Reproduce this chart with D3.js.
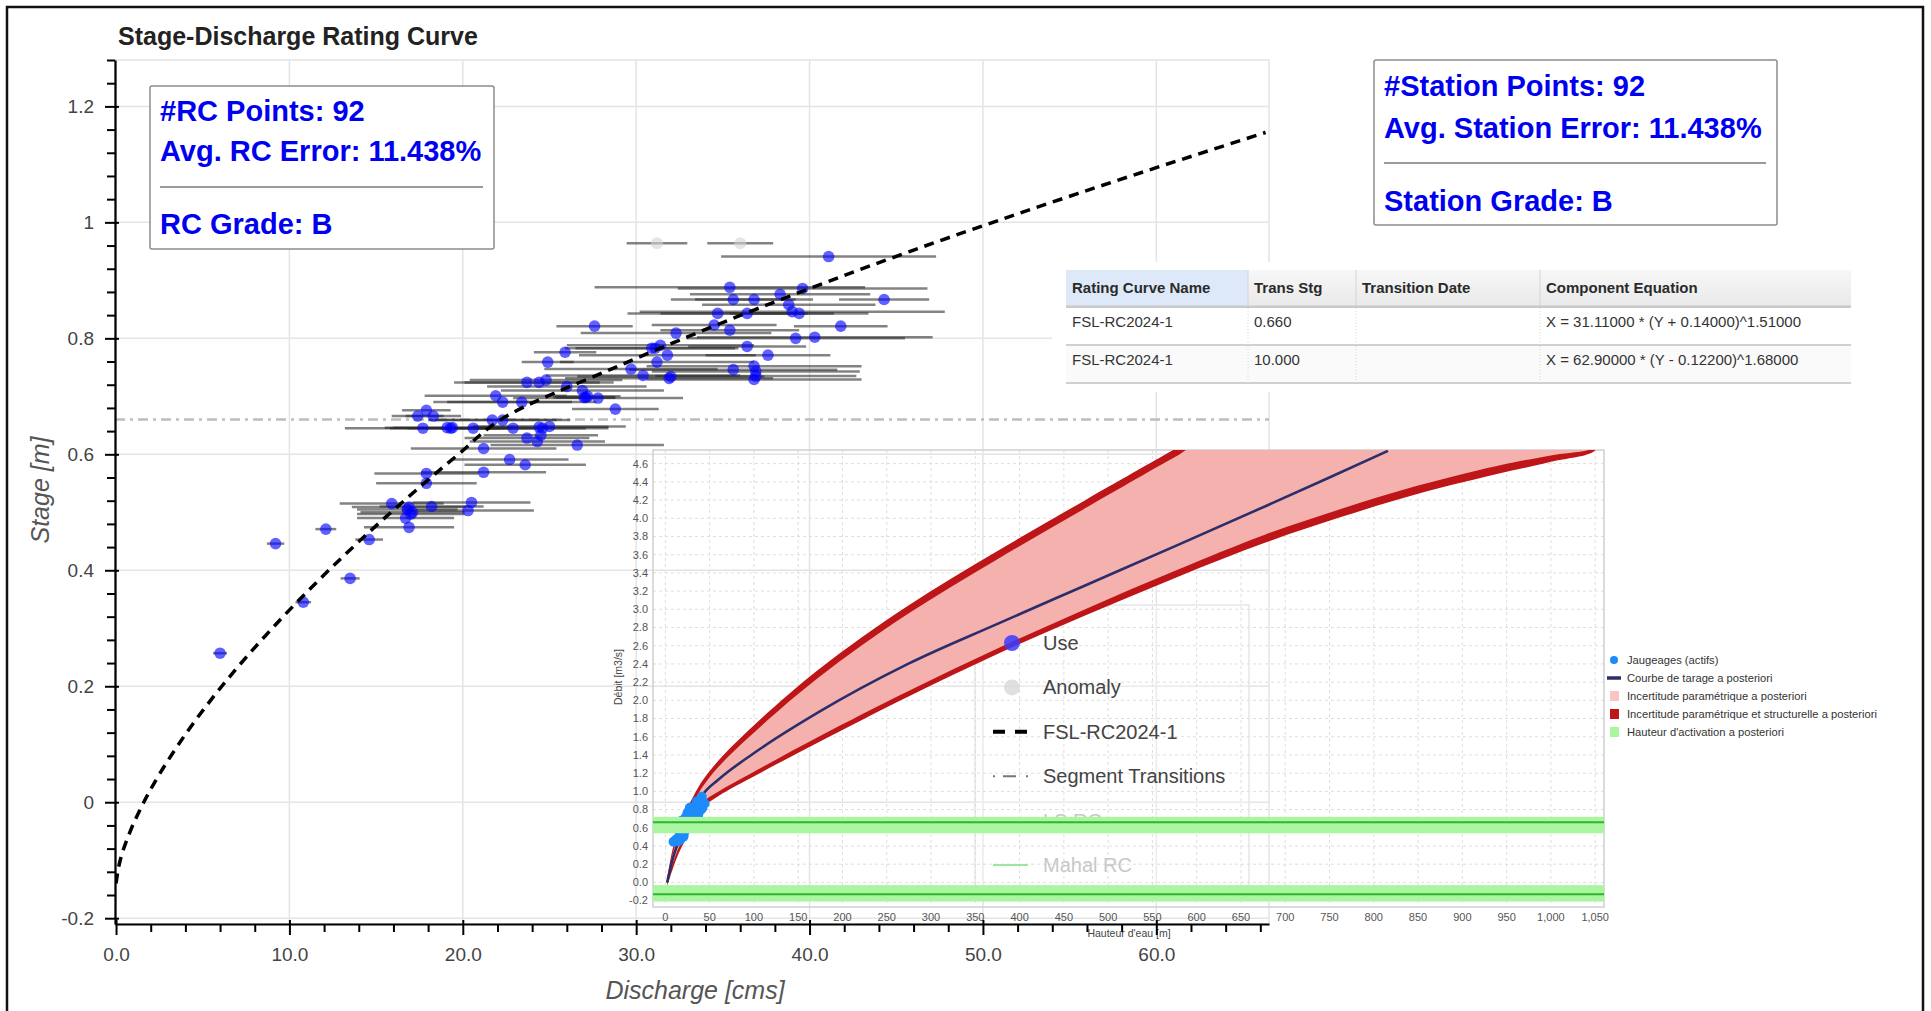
<!DOCTYPE html>
<html>
<head>
<meta charset="utf-8">
<script src="https://cdn.jsdelivr.net/npm/d3@7"></script>
<style>
  body { margin: 0; background: #fff; }
  svg { display: block; font-family: "Liberation Sans", Arial, Helvetica, sans-serif; }
</style>
</head>
<body>
<div id="chart"></div>
<script>
// ---- main chart data (discharge in cms, stage in m) ----
const useQ = [6.0, 9.2, 10.8, 12.1, 13.5, 14.6, 15.9, 16.9, 17.1, 16.7, 16.9, 18.2, 20.3, 20.5, 17.9, 17.9, 21.2, 22.7, 23.6, 21.2,
  26.6, 23.7, 24.3, 24.5, 17.4, 17.9, 18.3, 17.7, 19.1, 19.4, 20.6, 22.9, 24.4, 25.0, 21.7, 22.3, 21.9, 22.3, 23.4, 23.7,
  24.4, 24.8, 26.0, 26.9, 27.0, 27.1, 27.8, 28.8, 24.9, 25.9, 27.6, 29.7, 30.4, 30.9, 31.4, 31.8, 31.2, 31.9, 32.3, 32.0,
  34.5, 35.4, 35.6, 36.8, 36.9, 36.8, 36.4, 37.6, 39.2, 40.3, 41.8, 34.7, 36.4, 39.0, 39.4, 38.8, 35.6, 36.8, 44.3, 38.3,
  35.4, 39.6, 41.1, 16.8, 27.2, 19.3, 31.1, 36.9, 17.0, 24.6];
const useH = [0.257, 0.446, 0.345, 0.471, 0.386, 0.453, 0.515, 0.509, 0.500, 0.490, 0.474, 0.510, 0.503, 0.517, 0.550, 0.567, 0.569, 0.591, 0.582, 0.610,
  0.616, 0.628, 0.622, 0.633, 0.666, 0.676, 0.666, 0.645, 0.646, 0.646, 0.645, 0.645, 0.647, 0.648, 0.659, 0.659, 0.701, 0.690, 0.690, 0.724,
  0.724, 0.728, 0.717, 0.710, 0.698, 0.698, 0.697, 0.678, 0.759, 0.776, 0.821, 0.747, 0.736, 0.783, 0.788, 0.771, 0.759, 0.731, 0.809, 0.734,
  0.823, 0.814, 0.746, 0.752, 0.743, 0.729, 0.786, 0.771, 0.800, 0.802, 0.821, 0.843, 0.843, 0.846, 0.843, 0.858, 0.867, 0.867, 0.867, 0.876,
  0.888, 0.886, 0.941, 0.505, 0.700, 0.645, 0.783, 0.735, 0.497, 0.645];
const useErr = [0.4, 0.5, 0.45, 0.6, 0.55, 0.8, 3.0, 3.3, 3.0, 2.8, 2.6, 3.0, 3.8, 3.4, 2.9, 3.0, 3.6, 3.4, 3.5, 4.2,
  5.0, 3.6, 3.9, 3.3, 1.5, 1.4, 1.6, 4.5, 3.6, 3.4, 3.8, 4.2, 4.0, 4.4, 3.7, 3.9, 4.1, 4.0, 4.3, 4.2,
  4.3, 4.4, 4.6, 4.7, 1.8, 1.7, 4.9, 2.5, 1.5, 1.8, 2.2, 5.0, 5.6, 5.0, 5.4, 5.1, 5.6, 6.0, 5.5, 5.4,
  3.6, 4.0, 6.0, 6.2, 6.0, 6.2, 3.4, 3.6, 6.3, 6.8, 2.7, 5.2, 5.0, 8.8, 4.0, 5.0, 3.6, 3.4, 2.6, 5.2,
  7.8, 7.2, 6.2, 2.9, 1.9, 3.5, 4.6, 5.8, 3.1, 3.8];
const anomalyQ = [31.2, 36.0];
const anomalyH = [0.964, 0.964];
const anomalyErr = [1.75, 1.9];

// rating curve FSL-RC2024-1 as drawn
const rcStage = [-0.14, -0.10, -0.05, 0.00, 0.10, 0.20, 0.30, 0.40, 0.50, 0.60, 0.66, 0.75, 0.85, 0.95, 1.05, 1.155];
const rcDischarge = [0.0, 0.24, 0.82, 1.60, 3.61, 6.10, 9.01, 12.27, 15.86, 19.75, 22.2, 28.8, 36.9, 45.8, 55.5, 66.3];
const transitionStage = 0.66;

const xTicks = [0, 10, 20, 30, 40, 50, 60];
const xTickLabels = ["0.0", "10.0", "20.0", "30.0", "40.0", "50.0", "60.0"];
const yTicks = [-0.2, 0, 0.2, 0.4, 0.6, 0.8, 1.0, 1.2];
const yTickLabels = ["-0.2", "0", "0.2", "0.4", "0.6", "0.8", "1", "1.2"];

const legendLabels = ["Use", "Anomaly", "FSL-RC2024-1", "Segment Transitions", "LS RC", "Mahal RC"];
const rcStatLines = ["#RC Points: 92", "Avg. RC Error: 11.438%", "RC Grade: B"];
const stationStatLines = ["#Station Points: 92", "Avg. Station Error: 11.438%", "Station Grade: B"];

const tableHeaders = ["Rating Curve Name", "Trans Stg", "Transition Date", "Component Equation"];
const tableRows = [
  ["FSL-RC2024-1", "0.660", "", "X = 31.11000 * (Y + 0.14000)^1.51000"],
  ["FSL-RC2024-1", "10.000", "", "X = 62.90000 * (Y - 0.12200)^1.68000"]
];

// ---- inset (BaRatin style) data ----
const inCurveQ = [2, 8, 15, 25, 34, 42, 60, 97, 173, 274, 375, 476, 577, 677, 748, 816];
const inCurveH = [0.00, 0.25, 0.45, 0.66, 0.82, 0.96, 1.13, 1.40, 1.87, 2.40, 2.84, 3.27, 3.70, 4.13, 4.44, 4.74];
const inUpQ = [2, 8, 15, 25, 34, 42, 60, 97, 173, 274, 375, 476, 577, 600, 1040];
const inParamUp = [0.00, 0.30, 0.52, 0.75, 0.92, 1.05, 1.27, 1.62, 2.25, 2.95, 3.55, 4.12, 4.68, 4.80, 5.00];
const inStructUp = [0.04, 0.36, 0.59, 0.82, 0.99, 1.12, 1.34, 1.70, 2.34, 3.04, 3.64, 4.21, 4.77, 4.90, 5.10];
const inLoQ = [2, 8, 15, 25, 34, 42, 60, 97, 173, 274, 375, 476, 577, 677, 762, 850, 950, 1000, 1052];
const inParamLo = [0.00, 0.20, 0.38, 0.57, 0.74, 0.88, 1.00, 1.20, 1.60, 2.10, 2.57, 3.01, 3.43, 3.82, 4.10, 4.36, 4.60, 4.69, 4.80];
const inStructLo = [-0.04, 0.14, 0.32, 0.51, 0.68, 0.82, 0.95, 1.15, 1.54, 2.04, 2.51, 2.94, 3.35, 3.73, 4.01, 4.27, 4.51, 4.62, 4.77];
const activationH = [0.66, -0.13];
const activationLo = [0.54, -0.21];
const activationHi = [0.72, -0.03];

const inXTicks = [0, 50, 100, 150, 200, 250, 300, 350, 400, 450, 500, 550, 600, 650, 700, 750, 800, 850, 900, 950, 1000, 1050];
const inXTickLabels = ["0", "50", "100", "150", "200", "250", "300", "350", "400", "450", "500", "550", "600", "650", "700", "750", "800", "850", "900", "950", "1,000", "1,050"];
const inYTicks = [-0.2, 0.0, 0.2, 0.4, 0.6, 0.8, 1.0, 1.2, 1.4, 1.6, 1.8, 2.0, 2.2, 2.4, 2.6, 2.8, 3.0, 3.2, 3.4, 3.6, 3.8, 4.0, 4.2, 4.4, 4.6];
const inYTickLabels = ["-0.2", "0.0", "0.2", "0.4", "0.6", "0.8", "1.0", "1.2", "1.4", "1.6", "1.8", "2.0", "2.2", "2.4", "2.6", "2.8", "3.0", "3.2", "3.4", "3.6", "3.8", "4.0", "4.2", "4.4", "4.6"];
const inLegendLabels = ["Jaugeages (actifs)", "Courbe de tarage a posteriori", "Incertitude paramétrique a posteriori",
  "Incertitude paramétrique et structurelle a posteriori", "Hauteur d'activation a posteriori"];

// ---------------------------------------------------------------
const W = 1931, H = 1011;
const frame = { left: 115, top: 60, right: 1269, bottom: 924 };

const svg = d3.select("#chart").append("svg")
  .attr("width", W)
  .attr("height", H);

svg.append("rect").attr("width", W).attr("height", H).attr("fill", "#fff");
svg.append("rect")
  .attr("x", 7).attr("y", 7).attr("width", 1916).attr("height", 1012)
  .attr("fill", "none").attr("stroke", "#111").attr("stroke-width", 2.5);

const x = d3.scaleLinear().domain([-0.06, 66.5]).range([frame.left, frame.right]);
const y = d3.scaleLinear().domain([-0.21, 1.28]).range([frame.bottom, frame.top]);

const defs = svg.append("defs");
defs.append("clipPath").attr("id", "frameClip")
  .append("rect")
  .attr("x", frame.left).attr("y", frame.top)
  .attr("width", frame.right - frame.left).attr("height", frame.bottom - frame.top);

// gridlines + frame outline
const grid = svg.append("g");
grid.selectAll(".vgrid").data(xTicks).join("line")
  .attr("x1", d => x(d)).attr("x2", d => x(d))
  .attr("y1", frame.top).attr("y2", frame.bottom)
  .attr("stroke", "#e4e4e4").attr("stroke-width", 1.5);
grid.selectAll(".hgrid").data(yTicks).join("line")
  .attr("x1", frame.left).attr("x2", frame.right)
  .attr("y1", d => y(d)).attr("y2", d => y(d))
  .attr("stroke", "#e4e4e4").attr("stroke-width", 1.5);
grid.append("rect")
  .attr("x", frame.left).attr("y", frame.top)
  .attr("width", frame.right - frame.left).attr("height", frame.bottom - frame.top)
  .attr("fill", "none").attr("stroke", "#e4e4e4").attr("stroke-width", 1.5);

// main legend box (under the pasted inset); items are drawn later
const legendY = i => 643 + i * 44.4;
svg.append("rect")
  .attr("x", 975).attr("y", 605).attr("width", 274).attr("height", 283)
  .attr("fill", "#fff").attr("fill-opacity", 0.25)
  .attr("stroke", "#e6e6e6").attr("stroke-width", 1.5);
// the "LS RC" entry is hidden behind the green band of the inset
svg.append("text")
  .attr("x", 1043).attr("y", legendY(4)).attr("dy", "0.35em")
  .attr("font-size", 20).attr("fill", "#c8c8c8")
  .text(legendLabels[4]);

// ---- inset chart ----
const ix = d3.scaleLinear().domain([-14, 1060]).range([653, 1604]);
const iy = d3.scaleLinear().domain([-0.27, 4.75]).range([907, 450]);
defs.append("clipPath").attr("id", "insetClip")
  .append("rect")
  .attr("x", ix.range()[0]).attr("y", iy.range()[1])
  .attr("width", ix.range()[1] - ix.range()[0]).attr("height", iy.range()[0] - iy.range()[1]);

const inset = svg.append("g");
inset.selectAll(".ivg").data(inXTicks).join("line")
  .attr("x1", d => ix(d)).attr("x2", d => ix(d))
  .attr("y1", iy.range()[1]).attr("y2", iy.range()[0])
  .attr("stroke", "#dedede").attr("stroke-dasharray", "3,3");
inset.selectAll(".ihg").data(inYTicks).join("line")
  .attr("x1", ix.range()[0]).attr("x2", ix.range()[1])
  .attr("y1", d => iy(d)).attr("y2", d => iy(d))
  .attr("stroke", "#dedede").attr("stroke-dasharray", "3,3");
inset.append("rect")
  .attr("x", ix.range()[0]).attr("y", iy.range()[1])
  .attr("width", ix.range()[1] - ix.range()[0]).attr("height", iy.range()[0] - iy.range()[1])
  .attr("fill", "none").attr("stroke", "#cfcfcf").attr("stroke-width", 1.5);

// closed band outline: upper edge left->right, lower edge right->left
const bandPath = (upQ, up, loQ, lo) => {
  const upper = upQ.map((q, i) => [ix(q), iy(up[i])]);
  let lower = loQ.map((q, i) => [ix(q), iy(lo[i])]).reverse();
  const last = lower[lower.length - 1];
  if (last[0] === upper[0][0] && last[1] === upper[0][1]) lower = lower.slice(0, -1);
  return d3.line().curve(d3.curveCatmullRom.alpha(0.5))(upper.concat(lower)) + "Z";
};
const iPlot = inset.append("g").attr("clip-path", "url(#insetClip)");
iPlot.append("path")
  .attr("d", bandPath(inUpQ, inStructUp, inLoQ, inStructLo))
  .attr("fill", "#bd1518");
iPlot.append("path")
  .attr("d", bandPath(inUpQ, inParamUp, inLoQ, inParamLo))
  .attr("fill", "#f5b1ad");
iPlot.append("path")
  .datum(inCurveQ.map((q, i) => [q, inCurveH[i]]))
  .attr("d", d3.line().x(d => ix(d[0])).y(d => iy(d[1])).curve(d3.curveMonotoneX))
  .attr("fill", "none").attr("stroke", "#2b2e6b").attr("stroke-width", 2.6);
iPlot.selectAll(".idot").data(useQ.map((q, i) => [q, useH[i]]).filter(d => d[1] >= 0.44)).join("circle")
  .attr("cx", d => ix(d[0])).attr("cy", d => iy(d[1])).attr("r", 5)
  .attr("fill", "#1d8bfa");
activationH.forEach((h, i) => {
  iPlot.append("rect")
    .attr("x", ix.range()[0]).attr("width", ix.range()[1] - ix.range()[0])
    .attr("y", iy(activationHi[i])).attr("height", iy(activationLo[i]) - iy(activationHi[i]))
    .attr("fill", "#a9f5a0");
  iPlot.append("line")
    .attr("x1", ix.range()[0]).attr("x2", ix.range()[1])
    .attr("y1", iy(h)).attr("y2", iy(h))
    .attr("stroke", "#2fb52f").attr("stroke-width", 2);
});

inset.selectAll(".iyl").data(inYTicks).join("text")
  .attr("x", 648).attr("y", d => iy(d)).attr("dy", "0.35em")
  .attr("text-anchor", "end").attr("font-size", 11).attr("fill", "#555")
  .text((d, i) => inYTickLabels[i]);
inset.selectAll(".ixl").data(inXTicks).join("text")
  .attr("x", d => ix(d)).attr("y", 917).attr("dy", "0.35em")
  .attr("text-anchor", "middle").attr("font-size", 11).attr("fill", "#555")
  .text((d, i) => inXTickLabels[i]);
inset.append("text")
  .attr("transform", "translate(622, 677) rotate(-90)")
  .attr("text-anchor", "middle").attr("font-size", 10.5).attr("fill", "#444")
  .text("Débit [m3/s]");
inset.append("text")
  .attr("x", 1129).attr("y", 933).attr("dy", "0.35em")
  .attr("text-anchor", "middle").attr("font-size", 10.5).attr("fill", "#444")
  .text("Hauteur d'eau [m]");

const inLeg = inset.selectAll(".ileg").data(inLegendLabels).join("g")
  .attr("transform", (d, i) => `translate(1614, ${660 + i * 18})`);
inLeg.append("text")
  .attr("x", 13).attr("dy", "0.35em").attr("font-size", 11.2).attr("fill", "#333")
  .text(d => d);
inLeg.filter((d, i) => i === 0).append("circle").attr("r", 4).attr("fill", "#1d8bfa");
inLeg.filter((d, i) => i === 1).append("line")
  .attr("x1", -7).attr("x2", 7).attr("stroke", "#2b2e6b").attr("stroke-width", 3.5);
inLeg.filter((d, i) => i >= 2).append("rect")
  .attr("x", -4).attr("y", -5).attr("width", 9).attr("height", 10)
  .attr("fill", (d, i) => ["#f9c4c1", "#bd1518", "#a9f5a0"][i]);

// ---- main legend items ----
const legItem = svg.append("g").selectAll(".item")
  .data(legendLabels.map((label, i) => ({ label, i })).filter(d => d.i !== 4))
  .join("g")
  .attr("transform", d => `translate(0, ${legendY(d.i)})`);
legItem.append("text")
  .attr("x", 1043).attr("dy", "0.35em")
  .attr("font-size", 20)
  .attr("fill", d => d.i < 4 ? "#444" : "#c8c8c8")
  .text(d => d.label);
legItem.filter(d => d.i === 0).append("circle")
  .attr("cx", 1012).attr("r", 8).attr("fill", "#3b3bff").attr("fill-opacity", 0.85);
legItem.filter(d => d.i === 1).append("circle")
  .attr("cx", 1012).attr("r", 8).attr("fill", "#d8d8d8").attr("fill-opacity", 0.8);
legItem.filter(d => d.i === 2).append("line")
  .attr("x1", 993).attr("x2", 1028)
  .attr("stroke", "#000").attr("stroke-width", 4).attr("stroke-dasharray", "12,10");
legItem.filter(d => d.i === 3).append("line")
  .attr("x1", 993).attr("x2", 1028)
  .attr("stroke", "#777").attr("stroke-width", 2).attr("stroke-dasharray", "2,8,13,10,2");
legItem.filter(d => d.i === 5).append("line")
  .attr("x1", 993).attr("x2", 1028)
  .attr("stroke", "#9fe59f").attr("stroke-width", 2);

// ---- main plot data ----
const plot = svg.append("g").attr("clip-path", "url(#frameClip)");
plot.append("line")
  .attr("x1", frame.left).attr("x2", frame.right)
  .attr("y1", y(transitionStage)).attr("y2", y(transitionStage))
  .attr("stroke", "#bdbdbd").attr("stroke-width", 2.5)
  .attr("stroke-dasharray", "10,5,3,5");

const useData = useQ.map((q, i) => ({ q, h: useH[i], e: useErr[i] }));
const anomalyData = anomalyQ.map((q, i) => ({ q, h: anomalyH[i], e: anomalyErr[i] }));

plot.selectAll(".ebar").data(useData.concat(anomalyData)).join("line")
  .attr("x1", d => x(d.q - d.e)).attr("x2", d => x(d.q + d.e))
  .attr("y1", d => y(d.h)).attr("y2", d => y(d.h))
  .attr("stroke", "#2a2a2a").attr("stroke-opacity", 0.58).attr("stroke-width", 2.5);
plot.selectAll(".anom").data(anomalyData).join("circle")
  .attr("cx", d => x(d.q)).attr("cy", d => y(d.h)).attr("r", 6)
  .attr("fill", "#d3d3d3").attr("fill-opacity", 0.6);
plot.selectAll(".use").data(useData).join("circle")
  .attr("cx", d => x(d.q)).attr("cy", d => y(d.h)).attr("r", 5.8)
  .attr("fill", "#0000ff").attr("fill-opacity", 0.62);

plot.append("path")
  .datum(rcStage.map((h, i) => ({ q: rcDischarge[i], h })))
  .attr("d", d3.line().x(d => x(d.q)).y(d => y(d.h)).curve(d3.curveMonotoneY))
  .attr("fill", "none").attr("stroke", "#000").attr("stroke-width", 3.5)
  .attr("stroke-dasharray", "10,7");

// ---- pasted table ----
const colX = [1066, 1248, 1356, 1540, 1851];
const table = svg.append("g");
table.append("rect").attr("x", 1052).attr("y", 262).attr("width", 812).attr("height", 130).attr("fill", "#fff");
const hdrGrad = defs.append("linearGradient").attr("id", "hdrGrad")
  .attr("x1", 0).attr("x2", 0).attr("y1", 0).attr("y2", 1);
hdrGrad.append("stop").attr("offset", "0%").attr("stop-color", "#f7f7f7");
hdrGrad.append("stop").attr("offset", "100%").attr("stop-color", "#e9e9e9");
tableHeaders.forEach((h, i) => {
  table.append("rect")
    .attr("x", colX[i]).attr("y", 270).attr("width", colX[i + 1] - colX[i]).attr("height", 37)
    .attr("fill", i === 0 ? "#dde9f8" : "url(#hdrGrad)");
  table.append("text")
    .attr("x", colX[i] + 6).attr("y", 288).attr("dy", "0.35em")
    .attr("font-size", 15).attr("font-weight", "bold").attr("fill", "#2a2a2a")
    .text(h);
});
table.selectAll(".hsep").data(colX.slice(1, 4)).join("line")
  .attr("x1", d => d).attr("x2", d => d).attr("y1", 270).attr("y2", 307)
  .attr("stroke", "#d4d4d4");
table.append("line").attr("x1", colX[0]).attr("x2", colX[4]).attr("y1", 307).attr("y2", 307)
  .attr("stroke", "#c9c9c9").attr("stroke-width", 3);
tableRows.forEach((row, r) => {
  const top = 308 + r * 38;
  table.append("rect").attr("x", colX[0]).attr("y", top).attr("width", colX[4] - colX[0]).attr("height", 37)
    .attr("fill", r === 1 ? "#fafafa" : "#fff");
  table.append("line").attr("x1", colX[0]).attr("x2", colX[4]).attr("y1", top + 37).attr("y2", top + 37)
    .attr("stroke", "#d0d0d0").attr("stroke-width", 2);
  row.forEach((cell, c) => {
    table.append("text")
      .attr("x", colX[c] + 6).attr("y", top + 14).attr("dy", "0.35em")
      .attr("font-size", 15).attr("fill", "#333")
      .text(cell);
  });
  colX.slice(1, 4).forEach(cx => {
    table.append("line").attr("x1", cx).attr("x2", cx).attr("y1", top).attr("y2", top + 37)
      .attr("stroke", "#d8d8d8").attr("stroke-dasharray", "1,2");
  });
});

// ---- statistic boxes ----
function statBox(bx, by, bw, bh, lines, baselines, sepY) {
  const g = svg.append("g");
  g.append("rect")
    .attr("x", bx).attr("y", by).attr("width", bw).attr("height", bh).attr("rx", 2)
    .attr("fill", "#fff").attr("stroke", "#8c8c8c").attr("stroke-width", 1.5);
  g.selectAll("text").data(lines).join("text")
    .attr("x", bx + 10).attr("y", (d, i) => baselines[i])
    .attr("font-size", 29).attr("font-weight", "bold").attr("fill", "#0000f0")
    .text(d => d);
  g.append("line")
    .attr("x1", bx + 10).attr("x2", bx + bw - 11).attr("y1", sepY).attr("y2", sepY)
    .attr("stroke", "#9a9a9a").attr("stroke-width", 2);
}
statBox(150, 86, 344, 163, rcStatLines, [121, 161, 234], 187);
statBox(1374, 60, 403, 165, stationStatLines, [96, 138, 211], 163);

// ---- axes ----
const xAxis = svg.append("g")
  .attr("transform", `translate(0, ${frame.bottom})`)
  .call(d3.axisBottom(x).tickValues(xTicks).tickFormat((d, i) => xTickLabels[i])
    .tickSizeInner(11).tickSizeOuter(0).tickPadding(13));
xAxis.selectAll(".tick line").attr("y1", -4);
svg.append("g")
  .attr("transform", `translate(0, ${frame.bottom})`)
  .call(d3.axisBottom(x).tickValues(d3.range(0, 67, 2).filter(v => v % 10 !== 0))
    .tickSize(8).tickFormat(""))
  .call(g => g.select(".domain").remove());

const yAxis = svg.append("g")
  .attr("transform", `translate(${frame.left}, 0)`)
  .call(d3.axisLeft(y).tickValues(yTicks).tickFormat((d, i) => yTickLabels[i])
    .tickSizeInner(10).tickSizeOuter(0).tickPadding(11));
yAxis.selectAll(".tick line").attr("x1", 4);
svg.append("g")
  .attr("transform", `translate(${frame.left}, 0)`)
  .call(d3.axisLeft(y).tickValues(d3.range(-0.2, 1.29, 0.04).filter(v => Math.abs(v * 5 - Math.round(v * 5)) > 0.01))
    .tickSize(8).tickFormat(""))
  .call(g => g.select(".domain").remove());

svg.selectAll(".domain").attr("stroke", "#000").attr("stroke-width", 2.2);
svg.selectAll(".tick line").attr("stroke", "#000").attr("stroke-width", 2);
svg.selectAll(".tick text").attr("font-size", 19).attr("fill", "#444")
  .attr("font-family", "'Liberation Sans', Arial, sans-serif");

svg.append("text")
  .attr("x", 695).attr("y", 999)
  .attr("text-anchor", "middle").attr("font-size", 25).attr("font-style", "italic").attr("fill", "#555")
  .text("Discharge [cms]");
svg.append("text")
  .attr("transform", `translate(49, 490) rotate(-90)`)
  .attr("text-anchor", "middle").attr("font-size", 25).attr("font-style", "italic").attr("fill", "#555")
  .text("Stage [m]");

svg.append("text")
  .attr("x", 118).attr("y", 45)
  .attr("font-size", 25).attr("font-weight", "bold").attr("fill", "#222")
  .text("Stage-Discharge Rating Curve");
</script>
</body>
</html>
